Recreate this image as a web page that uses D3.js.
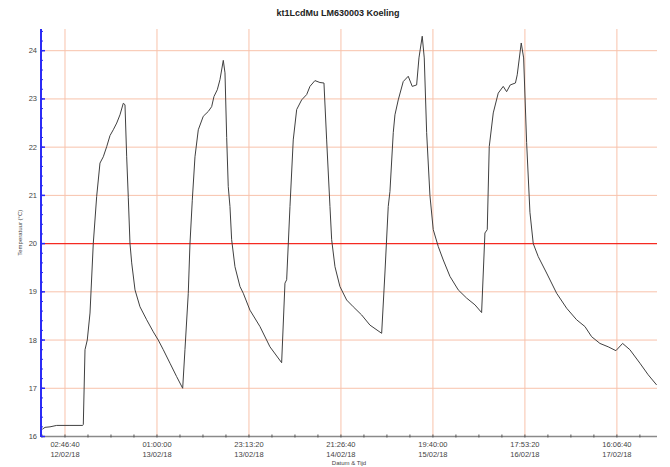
<!DOCTYPE html>
<html>
<head>
<meta charset="utf-8">
<script src="https://cdn.jsdelivr.net/npm/d3@7"></script>
<style>
    body { margin: 0; background: #fff; }
    text { font-family: "Liberation Sans", Arial, sans-serif; }
</style>
</head>
<body>
<div id="chart"></div>
<script>
const chartTitle = 'kt1LcdMu LM630003 Koeling';
const yLabel = 'Temperatuur (°C)';
const xLabel = 'Datum & Tijd';

// logger start / end, the hours below are counted from startTime
const startTime = '20:58:50 11/02/18';
const endTime = '01:48:00 18/02/18';

const hours = [
    0.31, 0.97, 2.17, 3.79, 7.0, 10.07, 10.22, 10.63, 11.18, 11.84, 12.63, 13.45,
    14.25, 15.05, 15.87, 16.67, 17.46, 18.29, 19.08, 19.88, 20.29, 20.7, 21.09, 21.5,
    21.91, 22.71, 23.91, 25.53, 27.13, 28.33, 29.54, 31.16, 32.78, 34.23, 34.78, 35.58,
    35.99, 36.55, 37.2, 38.0, 39.2, 40.41, 41.23, 41.79, 42.59, 43.24, 44.04, 44.45,
    44.86, 45.24, 45.65, 46.06, 46.86, 48.07, 48.87, 50.48, 52.9, 55.31, 58.14, 58.94,
    59.35, 60.15, 60.94, 61.77, 62.97, 64.18, 64.98, 66.18, 67.39, 68.36, 69.01, 69.81,
    70.22, 71.02, 72.22, 73.84, 75.44, 77.47, 79.47, 82.3, 83.09, 83.89, 84.3, 85.1,
    85.51, 86.31, 87.51, 88.72, 89.69, 90.75, 91.31, 92.1, 92.59, 93.17, 93.96, 94.76,
    95.97, 97.18, 98.8, 100.8, 102.83, 104.84, 106.45, 107.25, 107.81, 108.29, 109.26, 110.46,
    111.67, 112.49, 113.36, 114.62, 115.05, 116.02, 116.6, 117.32, 118.12, 118.92, 120.13, 122.15,
    124.57, 126.99, 129.4, 131.41, 133.02, 135.03, 137.03, 138.89, 140.51, 142.27, 144.69, 146.69,
    148.72
];
const temps = [
    16.15, 16.19, 16.2, 16.23, 16.23, 16.23, 16.25, 17.8, 18.0, 18.56, 20.0, 20.98,
    21.67, 21.8, 22.01, 22.24, 22.36, 22.5, 22.67, 22.91, 22.88, 21.8, 20.95, 20.0,
    19.6, 19.04, 18.69, 18.42, 18.17, 18.0, 17.8, 17.52, 17.24, 17.0, 17.8, 18.97,
    20.0, 20.9, 21.8, 22.36, 22.64, 22.74, 22.84, 23.05, 23.19, 23.4, 23.8, 23.54,
    22.2, 21.18, 20.77, 20.08, 19.52, 19.11, 18.97, 18.62, 18.28, 17.86, 17.53, 19.18,
    19.25, 20.77, 22.15, 22.78, 22.98, 23.09, 23.26, 23.38, 23.34, 23.33, 22.15, 20.77,
    20.08, 19.52, 19.11, 18.83, 18.69, 18.52, 18.31, 18.14, 19.39, 20.77, 21.08, 22.3,
    22.67, 22.98, 23.36, 23.47, 23.26, 23.29, 23.85, 24.3, 23.85, 22.3, 21.0, 20.29,
    19.94, 19.66, 19.32, 19.04, 18.87, 18.73, 18.57, 20.22, 20.29, 22.01, 22.71, 23.12,
    23.26, 23.15, 23.29, 23.33, 23.5, 24.16, 23.85, 22.1, 20.65, 20.0, 19.73, 19.39,
    18.97, 18.66, 18.42, 18.28, 18.07, 17.93, 17.86, 17.78, 17.93, 17.8, 17.52, 17.28,
    17.07
];

const xTickLabels = [
    '02:46:40 12/02/18', '01:00:00 13/02/18', '23:13:20 13/02/18', '21:26:40 14/02/18',
    '19:40:00 15/02/18', '17:53:20 16/02/18', '16:06:40 17/02/18'
];
const yTicks = [16, 17, 18, 19, 20, 21, 22, 23, 24];
const yMax = 24.45;
const limitTemp = 20;

const width = 670, height = 467;
const margin = { top: 29, right: 13, bottom: 30.5, left: 41 };

const parseTime = d3.utcParse('%H:%M:%S %d/%m/%y');
const t0 = parseTime(startTime);
const data = hours.map((h, i) => ({ date: new Date(+t0 + h * 3600e3), value: temps[i] }));
const tickDates = xTickLabels.map(parseTime);

const x = d3.scaleUtc([t0, parseTime(endTime)], [margin.left, width - margin.right]);
const y = d3.scaleLinear([16, yMax], [height - margin.bottom, margin.top]);

// minor ticks: 4 steps between the date ticks, 5 steps per degree
const step = tickDates[1] - tickDates[0];
const minorDates = d3.range(-1, tickDates.length * 4)
    .map(i => new Date(+tickDates[0] + i * step / 4))
    .filter(d => d >= x.domain()[0] && d <= x.domain()[1]);
const minorY = d3.range(16, yMax, 0.2);

const svg = d3.select('#chart')
    .append('svg')
    .attr('width', width)
    .attr('height', height);

// grid
svg.append('g')
    .selectAll('line')
    .data(tickDates)
    .join('line')
    .attr('x1', d => x(d)).attr('x2', d => x(d))
    .attr('y1', margin.top).attr('y2', height - margin.bottom)
    .attr('stroke', '#f8c2ab')
    .attr('stroke-width', 1);

svg.append('g')
    .selectAll('line')
    .data(yTicks.slice(1))
    .join('line')
    .attr('x1', margin.left).attr('x2', width - margin.right)
    .attr('y1', d => y(d)).attr('y2', d => y(d))
    .attr('stroke', d => d === limitTemp ? '#f52a22' : '#f8c2ab')
    .attr('stroke-width', d => d === limitTemp ? 1.2 : 1);

// temperature line
svg.append('path')
    .datum(data)
    .attr('fill', 'none')
    .attr('stroke', '#404040')
    .attr('stroke-width', 1)
    .attr('d', d3.line(d => x(d.date), d => y(d.value)));

// x axis
const xAxis = svg.append('g');
xAxis.append('line')
    .attr('x1', margin.left).attr('x2', width - margin.right)
    .attr('y1', y(16)).attr('y2', y(16))
    .attr('stroke', '#8a8a8a')
    .attr('stroke-width', 1.5);
xAxis.selectAll('.minor')
    .data(minorDates)
    .join('line')
    .attr('x1', d => x(d)).attr('x2', d => x(d))
    .attr('y1', y(16) - 2).attr('y2', y(16) + 1)
    .attr('stroke', '#555');
const xLabels = xAxis.selectAll('text')
    .data(tickDates)
    .join('text')
    .attr('x', d => x(d))
    .attr('text-anchor', 'middle')
    .attr('font-size', 7.5)
    .attr('fill', '#444');
xLabels.append('tspan')
    .attr('x', d => x(d)).attr('y', 446.5)
    .text(d => d3.utcFormat('%H:%M:%S')(d));
xLabels.append('tspan')
    .attr('x', d => x(d)).attr('y', 456.5)
    .text(d => d3.utcFormat('%d/%m/%y')(d));

// y axis (blue)
const yAxis = svg.append('g');
yAxis.append('line')
    .attr('x1', margin.left).attr('x2', margin.left)
    .attr('y1', margin.top).attr('y2', y(16))
    .attr('stroke', '#2b2bf5')
    .attr('stroke-width', 2);
yAxis.selectAll('.minor')
    .data(minorY)
    .join('line')
    .attr('x1', margin.left - 1).attr('x2', margin.left + 2)
    .attr('y1', d => y(d)).attr('y2', d => y(d))
    .attr('stroke', '#2b2bf5');
yAxis.selectAll('.major')
    .data(yTicks)
    .join('line')
    .attr('x1', margin.left).attr('x2', margin.left + 4)
    .attr('y1', d => y(d)).attr('y2', d => y(d))
    .attr('stroke', '#2b2bf5')
    .attr('stroke-width', 1.5);
yAxis.selectAll('text')
    .data(yTicks)
    .join('text')
    .attr('x', margin.left - 4)
    .attr('y', d => y(d) + 2.5)
    .attr('text-anchor', 'end')
    .attr('font-size', 7.5)
    .attr('fill', '#444')
    .text(d => d);

// titles
svg.append('text')
    .attr('x', 338).attr('y', 16)
    .attr('text-anchor', 'middle')
    .attr('font-size', 9)
    .attr('font-weight', 'bold')
    .attr('fill', '#222')
    .text(chartTitle);

svg.append('text')
    .attr('transform', `translate(22,${(margin.top + y(16)) / 2}) rotate(-90)`)
    .attr('text-anchor', 'middle')
    .attr('font-size', 6)
    .attr('fill', '#444')
    .text(yLabel);

svg.append('text')
    .attr('x', (margin.left + width - margin.right) / 2)
    .attr('y', 465)
    .attr('text-anchor', 'middle')
    .attr('font-size', 6)
    .attr('fill', '#444')
    .text(xLabel);
</script>
</body>
</html>
